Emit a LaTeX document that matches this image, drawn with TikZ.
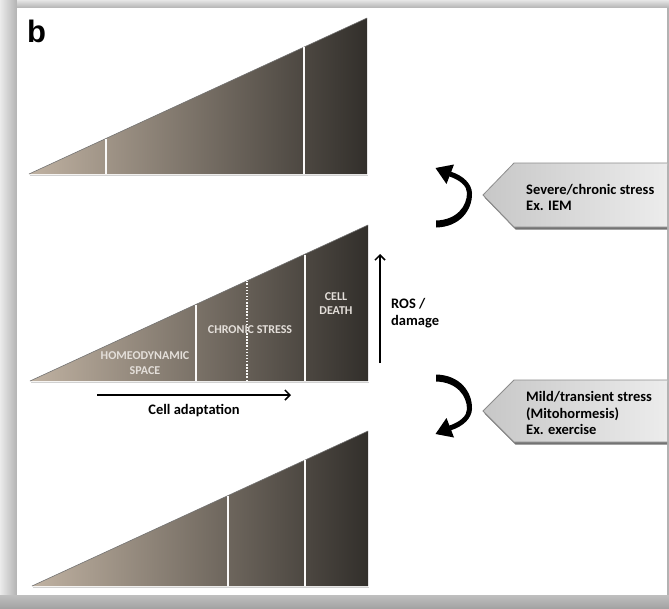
\documentclass[tikz,border=0pt]{standalone}
\usepackage{fontspec}
\setmainfont{Carlito}
\newfontfamily\arialfont{Liberation Sans}
\usetikzlibrary{arrows.meta,calc}
\definecolor{taupeL}{RGB}{192,178,162}
\definecolor{taupeD}{RGB}{50,47,43}
\definecolor{labelW}{RGB}{228,223,218}
\definecolor{frameG}{RGB}{196,196,196}
\tikzset{
  tri/.style={left color=taupeL, right color=taupeD},
  hyp/.style={draw=black!55, line width=0.6pt},
  baseshadow/.style={draw=black!18, line width=1.2pt},
  divider/.style={draw=white!92!taupeL, line width=1.6pt},
  dotdivider/.style={draw=white!92!taupeL, line width=1.3pt, dash pattern=on 1.5pt off 1.6pt},
  tlabel/.style={text=labelW, font=\bfseries\fontsize{12}{15}\selectfont, align=center, inner sep=0pt},
  blabel/.style={text=black, font=\bfseries\fontsize{14.5}{16.5}\selectfont, align=left, inner sep=0pt},
  plainarrow/.style={draw=black, line width=1.5pt, -{Straight Barb[length=5pt,width=10pt,line width=1.5pt]}},
  penta/.style={left color=black!22, right color=black!7, draw=black!45, line width=0.8pt},
  pentashadow/.style={fill=black!55},
  curvy/.style={fill=black}
}
\begin{document}
\begin{tikzpicture}[x=1pt,y=-1pt]
\useasboundingbox (0,0) rectangle (669,608);
% frame
\fill[frameG] (0,0) rectangle (669,608);
\shade[left color=black!8, right color=black!30] (0,0) rectangle (17,608);
\shade[top color=black!10, bottom color=black!30] (17,0) rectangle (669,8);
\shade[top color=black!25, bottom color=black!36] (0,595) rectangle (669,608);
\fill[black!30] (667,8) rectangle (669,595);
\fill[white] (17,8) rectangle (667,595);
% label b
\node[anchor=base west, inner sep=0pt, font=\arialfont\bfseries\fontsize{31}{31}\selectfont] (panel) at (27,42) {b};

% top triangle
\coordinate (t1tip) at (29,174);
\coordinate (t1base) at (367,174);
\coordinate (t1apex) at (367,18);
\draw[baseshadow] (30,175.5) -- (368,175.5);
\shade[tri] (t1tip) -- (t1base) -- (t1apex) -- cycle;
\draw[hyp] (t1tip) -- (t1apex);
\draw[divider] (106,174) -- (106,138.8);
\draw[divider] (304,174) -- (304,47.4);

% middle triangle
\coordinate (t2tip) at (30,381);
\coordinate (t2base) at (368,381);
\coordinate (t2apex) at (368,225);
\draw[baseshadow] (31,382.5) -- (369,382.5);
\shade[tri] (t2tip) -- (t2base) -- (t2apex) -- cycle;
\draw[hyp] (t2tip) -- (t2apex);
\draw[divider] (196,381) -- (196,304.7);
\draw[dotdivider] (247,381) -- (247,281.2);
\draw[divider] (305,381) -- (305,254.5);
\node[tlabel] (homeo) at (145,363.5) {HOMEODYNAMIC\\SPACE};
\node[tlabel] (chronic) at (250,330) {CHRONIC STRESS};
\node[tlabel, font=\bfseries\fontsize{12}{14}\selectfont] (death) at (336,304) {CELL\\DEATH};

% bottom triangle
\coordinate (t3tip) at (32,586);
\coordinate (t3base) at (368,586);
\coordinate (t3apex) at (368,431);
\draw[baseshadow] (33,587.5) -- (369,587.5);
\shade[tri] (t3tip) -- (t3base) -- (t3apex) -- cycle;
\draw[hyp] (t3tip) -- (t3apex);
\draw[divider] (228,586) -- (228,495.9);
\draw[divider] (305,586) -- (305,460.3);

% cell adaptation arrow
\coordinate (adaptA) at (97,395);
\coordinate (adaptB) at (291,395);
\draw[plainarrow] (adaptA) -- (adaptB);
\node[blabel] (adapt) at (194,410.5) {Cell adaptation};

% ROS arrow
\coordinate (rosA) at (380,363);
\coordinate (rosB) at (380,254);
\draw[plainarrow] (rosA) -- (rosB);
\node[blabel, anchor=west] (ros) at (391,313) {ROS /\\damage};

% curved arrows
\begin{scope}[shift={(0,198)}]
  \fill[curvy] (436,29.5) .. controls (460,29) and (472.5,12) .. (472,-5)
     .. controls (471.5,-14) and (464,-22) .. (451,-26.3)
     -- (449,-21.7) .. controls (460,-18) and (467,-12) .. (467,-5)
     .. controls (467,8) and (457,22) .. (436,22.5) -- cycle;
  \fill[curvy] (435.5,-30) -- (454,-33.5) -- (446.5,-14) -- cycle;
\end{scope}
\begin{scope}[shift={(0,404)}, yscale=-1]
  \fill[curvy] (436,29.5) .. controls (460,29) and (472.5,12) .. (472,-5)
     .. controls (471.5,-14) and (464,-22) .. (451,-26.3)
     -- (449,-21.7) .. controls (460,-18) and (467,-12) .. (467,-5)
     .. controls (467,8) and (457,22) .. (436,22.5) -- cycle;
  \fill[curvy] (435.5,-30) -- (454,-33.5) -- (446.5,-14) -- cycle;
\end{scope}

% pentagon boxes
\begin{scope}
  \clip (17,8) rectangle (667,595);
  \fill[pentashadow] (484.5,197.5) -- (515.5,165.5) -- (670,165.5) -- (670,229.5) -- (515.5,229.5) -- cycle;
  \shade[penta] (483,195) -- (514,163) -- (672,163) -- (672,227) -- (514,227) -- cycle;
  \fill[pentashadow] (484.5,413.5) -- (515.5,382.5) -- (670,382.5) -- (670,444.5) -- (515.5,444.5) -- cycle;
  \shade[penta] (483,411) -- (514,380) -- (672,380) -- (672,442) -- (514,442) -- cycle;
\end{scope}
\node[blabel, anchor=west] (severe) at (526,197.5) {Severe/chronic stress\\Ex. IEM};
\node[blabel, anchor=west] (mild) at (526,413) {Mild/transient stress\\(Mitohormesis)\\Ex. exercise};
\end{tikzpicture}
\end{document}
